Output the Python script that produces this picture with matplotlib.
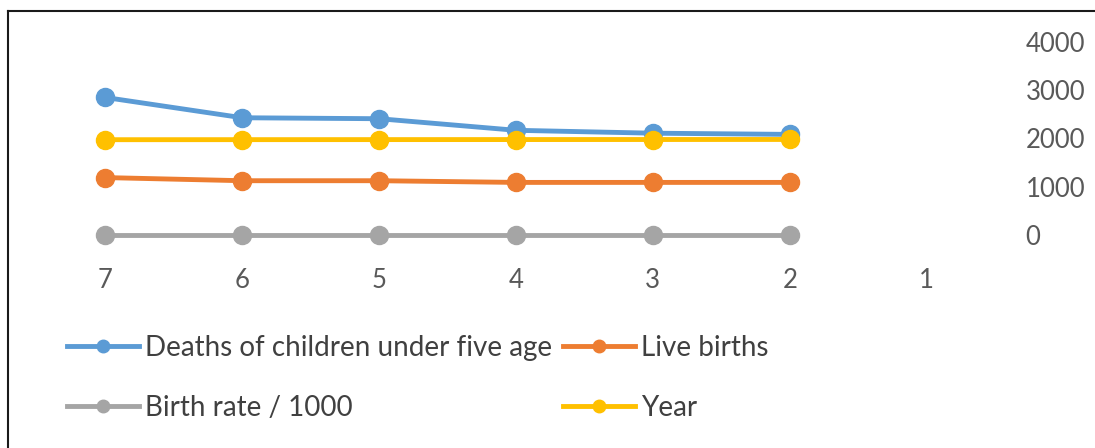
import numpy as np
import matplotlib
matplotlib.use('Agg')
import matplotlib.pyplot as plt
from matplotlib.lines import Line2D

plt.rcParams['font.family'] = ['Lato', 'DejaVu Sans']

# data (categories shown reversed on the x axis, category 1 is empty)
categories = [7, 6, 5, 4, 3, 2]
tick_categories = [7, 6, 5, 4, 3, 2, 1]
deaths_under_five = [2850, 2430, 2410, 2170, 2110, 2085]
live_births = [1190, 1125, 1125, 1090, 1090, 1090]
birth_rate_per_1000 = [0.03, 0.03, 0.03, 0.03, 0.03, 0.03]
year = [1975, 1976, 1977, 1978, 1979, 1980]
y_ticks = [0, 1000, 2000, 3000, 4000]

series = [
    ('Deaths of children under five age', deaths_under_five, '#5B9BD5'),
    ('Live births', live_births, '#ED7D31'),
    ('Birth rate / 1000', birth_rate_per_1000, '#A5A5A5'),
    ('Year', year, '#FFC000'),
]

W, H = 1095, 448
fig = plt.figure(figsize=(W / 100, H / 100), dpi=100)

# plot area in pixels: x 37..995, y 42..235
left, right, top, bottom = 37, 995, 42, 235
ax = fig.add_axes([left / W, 1 - bottom / H, (right - left) / W, (bottom - top) / H])

for name, vals, col in series:
    ax.plot(categories, vals, color=col, lw=3.5, marker='o', ms=13,
            solid_capstyle='round', clip_on=False, label=name)

ax.set_xlim(7.5, 0.5)
ax.set_ylim(0, 4000)
ax.set_xticks(tick_categories)
ax.set_xticklabels([str(c) for c in tick_categories])
ax.set_yticks(y_ticks)
ax.yaxis.tick_right()
for s in ax.spines.values():
    s.set_visible(False)
ax.tick_params(axis='both', length=0, colors='#595959', labelsize=18.5)
ax.tick_params(axis='x', pad=24)
ax.tick_params(axis='y', pad=22)
for lbl in ax.get_yticklabels():
    lbl.set_horizontalalignment('left')

# legend: two rows, two columns
handles = {name: Line2D([], [], color=col, lw=3.5, marker='o', ms=9)
           for name, _, col in series}
order = ['Deaths of children under five age', 'Birth rate / 1000',
         'Live births', 'Year']
fig.legend([handles[n] for n in order], order, ncol=2, frameon=False,
           loc='upper left', bbox_to_anchor=(67 / W, 1 - 335 / H),
           borderpad=0, borderaxespad=0, fontsize=20, labelcolor='#404040',
           handlelength=2.6, handletextpad=0.2, columnspacing=0.4,
           labelspacing=1.22)

# chart area border (only top and left edges visible)
fig.add_artist(Line2D([8 / W, 8 / W], [0, 1 - 11 / H], color='#1a1a1a',
                      lw=1.5, transform=fig.transFigure))
fig.add_artist(Line2D([8 / W, 1], [1 - 11 / H, 1 - 11 / H], color='#1a1a1a',
                      lw=1.5, transform=fig.transFigure))

fig.savefig('out.png', dpi=100)
